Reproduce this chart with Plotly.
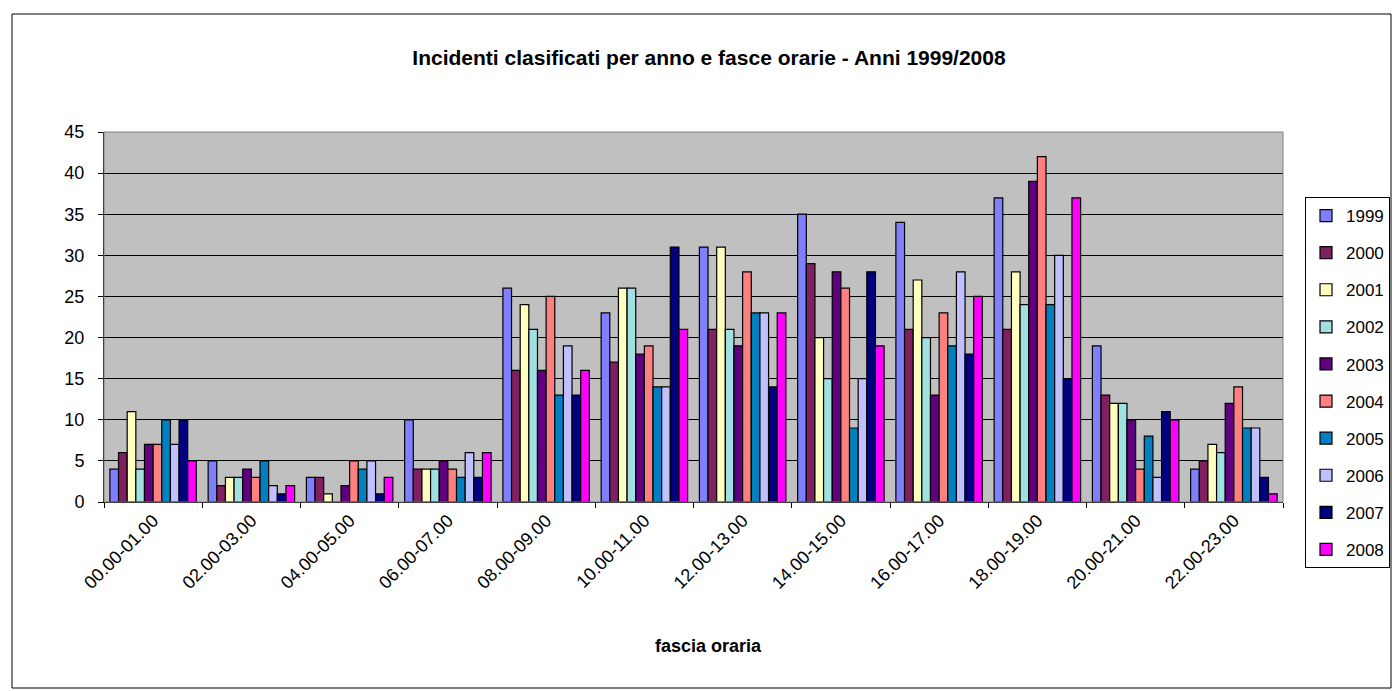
import plotly.graph_objects as go

categories = ["00.00-01.00", "02.00-03.00", "04.00-05.00", "06.00-07.00", "08.00-09.00",
              "10.00-11.00", "12.00-13.00", "14.00-15.00", "16.00-17.00", "18.00-19.00",
              "20.00-21.00", "22.00-23.00"]
years = ["1999", "2000", "2001", "2002", "2003", "2004", "2005", "2006", "2007", "2008"]

v1999 = [4, 5, 3, 10, 26, 23, 31, 35, 34, 37, 19, 4]
v2000 = [6, 2, 3, 4, 16, 17, 21, 29, 21, 21, 13, 5]
v2001 = [11, 3, 1, 4, 24, 26, 31, 20, 27, 28, 12, 7]
v2002 = [4, 3, 0, 4, 21, 26, 21, 15, 20, 24, 12, 6]
v2003 = [7, 4, 2, 5, 16, 18, 19, 28, 13, 39, 10, 12]
v2004 = [7, 3, 5, 4, 25, 19, 28, 26, 23, 42, 4, 14]
v2005 = [10, 5, 4, 3, 13, 14, 23, 9, 19, 24, 8, 9]
v2006 = [7, 2, 5, 6, 19, 14, 23, 15, 28, 30, 3, 9]
v2007 = [10, 1, 1, 3, 13, 31, 14, 28, 18, 15, 11, 3]
v2008 = [5, 2, 3, 6, 16, 21, 23, 19, 25, 37, 10, 1]
series = [v1999, v2000, v2001, v2002, v2003, v2004, v2005, v2006, v2007, v2008]

colors = ["#8080FF", "#802060", "#FFFFC0", "#A0E0E0", "#600080",
          "#FF8080", "#0080C0", "#C0C0FF", "#000080", "#FF00FF"]

FONT = "Arial, Liberation Sans, sans-serif"

fig = go.Figure()
for name, vals, col in zip(years, series, colors):
    fig.add_trace(go.Bar(
        x=categories, y=vals, name=name, legendgroup=name,
        marker=dict(color=col, line=dict(color="black", width=1.2)),
    ))

L, R, T, B = 104, 1283, 132, 502
W, H = 1394, 691
pw, ph = R - L, B - T

def px(x):
    return (x - L) / pw

def py(y):
    return (B - y) / ph

fig.update_layout(
    width=W, height=H,
    margin=dict(l=L, r=W - R, t=T, b=H - B, pad=0, autoexpand=False),
    paper_bgcolor="white",
    plot_bgcolor="#C0C0C0",
    barmode="group",
    bargap=0.12,
    bargroupgap=0,
    font=dict(family=FONT, color="black"),
    title=dict(
        text="<b>Incidenti clasificati per anno e fasce orarie - Anni 1999/2008</b>",
        x=709 / W, xref="container", xanchor="center",
        y=1 - 58 / H, yref="container", yanchor="middle",
        font=dict(size=21, family=FONT, color="black"),
    ),
    xaxis=dict(
        type="category",
        tickangle=-45,
        ticks="outside", ticklen=5, tickcolor="black",
        tickson="boundaries",
        tickfont=dict(size=18, family=FONT, color="black"),
        showline=True, linecolor="black", linewidth=1,
        showgrid=False,
    ),
    yaxis=dict(
        range=[0, 45], dtick=5,
        ticks="outside", ticklen=5, tickcolor="black",
        ticklabelstandoff=10,
        tickfont=dict(size=18, family=FONT, color="black"),
        showline=True, linecolor="black", linewidth=1,
        showgrid=True, gridcolor="black", gridwidth=1,
        zeroline=False,
    ),
    legend=dict(
        x=px(1305), y=py(197), xanchor="left", yanchor="top",
        xref="paper", yref="paper",
        bgcolor="white", bordercolor="black", borderwidth=1,
        font=dict(size=17, family=FONT, color="black"),
        tracegroupgap=12,
        itemwidth=30,
        maxheight=600,
    ),
    annotations=[
        dict(text="<b>fascia oraria</b>", xref="paper", yref="paper",
             x=px(708), y=py(646), xanchor="center", yanchor="middle",
             showarrow=False, font=dict(size=18, family=FONT, color="black")),
    ],
    shapes=[
        dict(type="rect", xref="paper", yref="paper", x0=0, x1=1, y0=0, y1=1,
             line=dict(color="#808080", width=1), fillcolor="rgba(0,0,0,0)", layer="above"),
        dict(type="rect", xref="paper", yref="paper",
             x0=px(12), x1=px(1391), y0=py(688), y1=py(14),
             line=dict(color="black", width=1), fillcolor="rgba(0,0,0,0)"),
    ],
)

fig.write_html("out.html", config={"displayModeBar": False},
               post_script="document.body.style.margin='0px';")
